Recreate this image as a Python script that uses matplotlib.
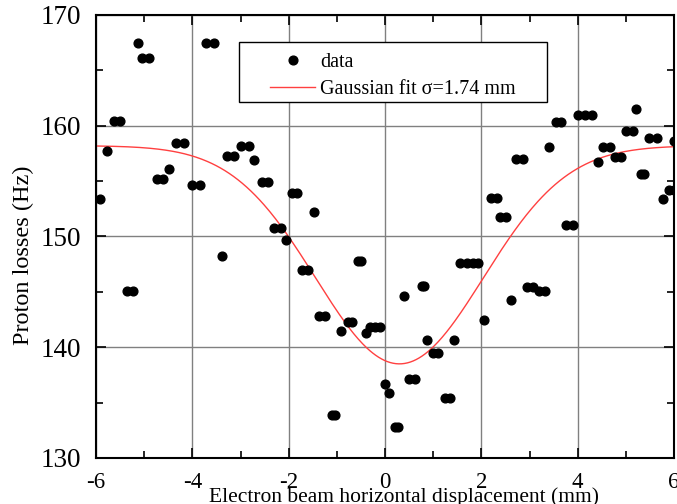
import numpy as np
import matplotlib
matplotlib.use("Agg")
import matplotlib.pyplot as plt
from matplotlib.ticker import MultipleLocator
from matplotlib.patches import Rectangle

plt.rcParams['font.family'] = ['Liberation Serif', 'DejaVu Serif']
plt.rcParams['axes.unicode_minus'] = False

# Measured data (displacement in mm, proton losses in Hz)
x_data = [-5.92, -5.78, -5.62, -5.50, -5.36, -5.24, -5.12, -5.04, -4.89, -4.74,
          -4.60, -4.48, -4.34, -4.17, -4.01, -3.85, -3.72, -3.55, -3.39, -3.29,
          -3.13, -2.98, -2.82, -2.71, -2.56, -2.42, -2.30, -2.16, -2.06, -1.94,
          -1.83, -1.73, -1.59, -1.47, -1.36, -1.25, -1.11, -1.04, -0.92, -0.76,
          -0.69, -0.57, -0.50, -0.40, -0.31, -0.21, -0.10, -0.01, 0.08, 0.21,
          0.28, 0.40, 0.50, 0.62, 0.76, 0.81, 0.87, 0.99, 1.09, 1.24,
          1.35, 1.44, 1.56, 1.70, 1.82, 1.94, 2.06, 2.21, 2.32, 2.39,
          2.51, 2.62, 2.73, 2.86, 2.94, 3.07, 3.20, 3.32, 3.41, 3.55,
          3.65, 3.76, 3.90, 4.00, 4.15, 4.29, 4.43, 4.53, 4.67, 4.77,
          4.89, 5.00, 5.15, 5.21, 5.31, 5.38, 5.48, 5.64, 5.77, 5.90,
          6.00, 6.00]
y_data = [153.4, 157.75, 160.4, 160.4, 145.1, 145.1, 167.5, 166.1, 166.1, 155.2,
          155.2, 156.1, 158.4, 158.4, 154.65, 154.65, 167.5, 167.5, 148.2, 157.3,
          157.3, 158.2, 158.2, 156.9, 154.9, 154.9, 150.8, 150.8, 149.7, 153.9,
          153.9, 147.0, 147.0, 152.2, 142.8, 142.8, 133.9, 133.9, 141.5, 142.25,
          142.25, 147.8, 147.8, 141.26, 141.8, 141.85, 141.85, 136.7, 135.9, 132.8,
          132.8, 144.6, 137.1, 137.1, 145.5, 145.5, 140.65, 139.5, 139.5, 135.45,
          135.45, 140.65, 147.6, 147.6, 147.6, 147.6, 142.5, 153.5, 153.5, 151.8,
          151.8, 144.3, 157.0, 157.0, 145.4, 145.4, 145.1, 145.1, 158.1, 160.3,
          160.3, 151.0, 151.0, 161.0, 161.0, 161.0, 156.7, 158.1, 158.1, 157.2,
          157.2, 159.5, 159.5, 161.5, 155.6, 155.6, 158.9, 158.9, 153.4, 154.2,
          154.2, 158.6]

# Gaussian fit parameters
fit_baseline = 158.2
fit_depth = 19.7
fit_center = 0.3
fit_sigma = 1.74

x_ticks = [-6, -4, -2, 0, 2, 4, 6]
y_ticks = [130, 140, 150, 160, 170]

W, H = 677, 504
fig = plt.figure(figsize=(W / 100, H / 100), dpi=100)
ax = fig.add_axes([96 / W, 1 - 458 / H, 578 / W, 443 / H])

xf = np.linspace(-6, 6, 400)
yf = fit_baseline - fit_depth * np.exp(-(xf - fit_center) ** 2 / (2 * fit_sigma ** 2))

ax.plot(x_data, y_data, 'o', color='black', markersize=6.3, label='data', zorder=3)
ax.plot(xf, yf, '-', color='#ff4040', lw=1.0, label='Gaussian fit σ=1.74 mm', zorder=2)

ax.set_xlim(-6, 6)
ax.set_ylim(130, 170)
ax.set_xticks(x_ticks)
ax.set_yticks(y_ticks)
ax.xaxis.set_minor_locator(MultipleLocator(1))
ax.yaxis.set_minor_locator(MultipleLocator(5))
ax.tick_params(which='both', direction='in', top=True, right=True, width=1.2)
ax.tick_params(which='major', length=7)
ax.tick_params(which='minor', length=5)
ax.tick_params(axis='y', which='major', pad=11, labelsize=19.5)
ax.tick_params(axis='x', which='major', pad=10, labelsize=16.5)
ax.grid(True, which='major', color='#808080', lw=1.0)
ax.set_axisbelow(True)
for s in ax.spines.values():
    s.set_linewidth(1.5)

fig.text(209 / W, 1 - 501.7 / H, 'Electron beam horizontal displacement (mm)',
         fontsize=15.5, ha='left', va='baseline')
fig.text(23 / W, 1 - 255 / H, 'Proton losses (Hz)', fontsize=17.5,
         rotation=90, ha='center', va='center')

# Legend frame
box = Rectangle((0.2474, 0.8043), 0.5329, 0.1354, transform=ax.transAxes,
                facecolor='white', edgecolor='black', lw=1.0, zorder=4)
ax.add_patch(box)

leg = ax.legend(loc='upper left', bbox_to_anchor=(0.301, 0.9147),
                fontsize=14.5, frameon=False, borderaxespad=0, borderpad=0,
                handlelength=2.24, handletextpad=0.25, labelspacing=0.42,
                numpoints=1)
leg.set_zorder(5)

fig.savefig('out.png', dpi=100)
